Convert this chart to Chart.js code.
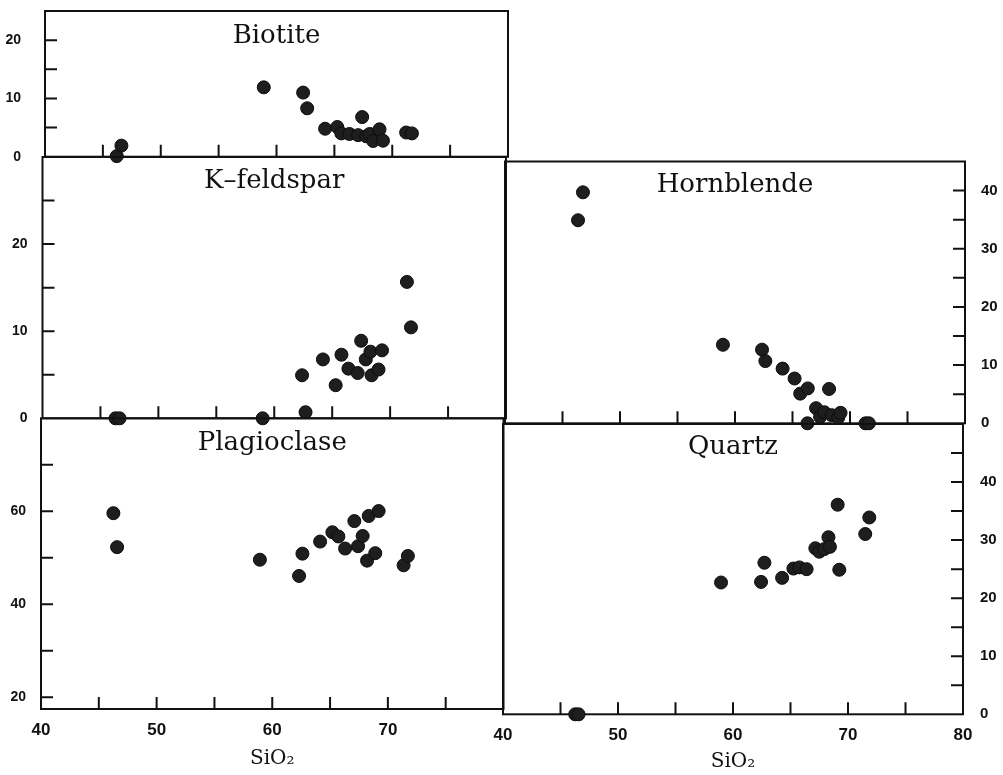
<!DOCTYPE html>
<html>
<head>
<meta charset="utf-8">
<script src="https://cdn.jsdelivr.net/npm/chart.js@4.4.1/dist/chart.umd.min.js"></script>
<style>
html,body{margin:0;padding:0;background:#fff;}
#wrap{position:relative;width:1003px;height:775px;overflow:hidden;background:#fff;}
canvas{position:absolute;left:0;top:0;}
</style>
</head>
<body>
<div id="wrap">
<canvas id="cBio" width="1003" height="775"></canvas>
<canvas id="cKfs" width="1003" height="775"></canvas>
<canvas id="cPlg" width="1003" height="775"></canvas>
<canvas id="cHbl" width="1003" height="775"></canvas>
<canvas id="cQtz" width="1003" height="775"></canvas>
</div>
<script>
// ---------- DATA ----------
const xTickLabelsLeft  = [40, 50, 60, 70];
const xTickLabelsRight = [40, 50, 60, 70, 80];

const biotiteSiO2 = [46.2, 46.6, 58.9, 62.3, 62.65, 64.2, 65.25, 65.6, 66.3, 67.05, 67.4, 67.75, 68.05, 68.35, 68.9, 69.2, 71.2, 71.7];
const biotiteMode = [0.1, 1.9, 11.9, 11.0, 8.3, 4.8, 5.1, 4.0, 3.9, 3.7, 6.8, 3.5, 3.9, 2.7, 4.7, 2.75, 4.15, 4.0];
const biotiteYLabels = [0, 10, 20];

const kfeldSiO2 = [46.3, 46.65, 59.0, 62.4, 62.7, 64.2, 65.3, 65.8, 66.4, 67.2, 67.5, 67.9, 68.3, 68.4, 69.0, 69.3, 71.45, 71.8];
const kfeldMode = [0, 0, 0, 4.94, 0.7, 6.76, 3.8, 7.3, 5.7, 5.2, 8.9, 6.76, 7.65, 4.94, 5.6, 7.8, 15.66, 10.44];
const kfeldYLabels = [0, 10, 20];

const plagSiO2 = [46.26, 46.58, 58.93, 62.32, 62.61, 64.14, 65.2, 65.72, 66.3, 67.1, 67.42, 67.82, 68.2, 68.34, 68.91, 69.2, 71.36, 71.73];
const plagMode = [59.6, 52.3, 49.6, 46.1, 50.9, 53.5, 55.5, 54.6, 52.0, 57.9, 52.5, 54.7, 49.4, 59.0, 51.0, 60.06, 48.4, 50.4];
const plagYLabels = [20, 40, 60];

const hornSiO2 = [46.35, 46.78, 58.95, 62.35, 62.64, 64.14, 65.18, 65.67, 66.33, 68.18, 67.05, 67.4, 67.77, 68.4, 68.98, 69.18, 66.3, 71.35, 71.64];
const hornMode = [34.9, 39.7, 13.5, 12.66, 10.7, 9.4, 7.7, 5.1, 6.0, 5.9, 2.6, 1.1, 1.9, 1.4, 1.0, 1.8, 0, 0, 0];
const hornYLabels = [0, 10, 20, 30, 40];

const quartzSiO2 = [46.28, 46.57, 58.96, 62.44, 62.73, 64.27, 65.25, 65.77, 66.4, 67.16, 67.5, 67.94, 68.3, 68.43, 69.1, 69.24, 71.5, 71.85];
const quartzMode = [0, 0, 22.7, 22.8, 26.1, 23.5, 25.1, 25.3, 25.0, 28.6, 28.0, 28.45, 30.5, 28.85, 36.1, 24.9, 31.05, 33.9];
const quartzYLabels = [0, 10, 20, 30, 40];

// ---------- LAYOUT / STYLE ----------
const PAGE_W = 1003, PAGE_H = 775;
const Y_AXIS_W = 40;
const INK = '#111';

Chart.defaults.font.family = '"Liberation Sans", Arial, sans-serif';

const framePlugin = {
  id: 'panelFrame',
  beforeDatasetsDraw(chart, args, opts) {
    const {ctx, chartArea: a, scales: {x, y}} = chart;
    const tl = opts.tickLen || 12;
    ctx.save();
    ctx.strokeStyle = INK;
    ctx.lineWidth = 2;
    ctx.strokeRect(a.left, a.top, a.right - a.left, a.bottom - a.top);
    ctx.beginPath();
    x.ticks.forEach(t => {
      if (t.value > x.min && t.value < x.max) {
        const px = x.getPixelForValue(t.value);
        ctx.moveTo(px, a.bottom);
        ctx.lineTo(px, a.bottom - tl);
      }
    });
    y.ticks.forEach(t => {
      if (t.value > y.min && t.value < y.max) {
        const py = y.getPixelForValue(t.value);
        if (y.position === 'left') { ctx.moveTo(a.left, py); ctx.lineTo(a.left + tl, py); }
        else { ctx.moveTo(a.right, py); ctx.lineTo(a.right - tl, py); }
      }
    });
    ctx.stroke();
    ctx.restore();
  },
  afterDraw(chart, args, opts) {
    const {ctx, chartArea: a} = chart;
    ctx.save();
    ctx.fillStyle = INK;
    ctx.font = '26px "DejaVu Serif", serif';
    ctx.textAlign = 'center';
    ctx.textBaseline = 'alphabetic';
    ctx.fillText(opts.title, (a.left + a.right) / 2, a.top + opts.baseline);
    ctx.restore();
  }
};

const panels = [
  {id: 'cBio', title: 'Biotite', baseline: 32, xs: biotiteSiO2, ys: biotiteMode,
   rect: [45, 11, 508, 156.7], yMin: 0, yMax: 25, yStep: 5, yLabels: biotiteYLabels,
   ySide: 'left', yPad: 24, yFont: 14, xLabels: null, xAxisH: 0},
  {id: 'cKfs', title: 'K\u2013feldspar', baseline: 31, xs: kfeldSiO2, ys: kfeldMode,
   rect: [42.5, 157, 506, 418.3], yMin: 0, yMax: 30, yStep: 5, yLabels: kfeldYLabels,
   ySide: 'left', yPad: 15, yFont: 14, xLabels: null, xAxisH: 0},
  {id: 'cPlg', title: 'Plagioclase', baseline: 31.5, xs: plagSiO2, ys: plagMode,
   rect: [41, 418.3, 503.5, 709], yMin: 17.5, yMax: 80, yStep: 10, yLabels: plagYLabels,
   ySide: 'left', yPad: 15, yFont: 14, xLabels: xTickLabelsLeft, xAxisH: 62},
  {id: 'cHbl', title: 'Hornblende', baseline: 30, xs: hornSiO2, ys: hornMode,
   rect: [505, 161.5, 965, 423.3], yMin: 0, yMax: 45, yStep: 5, yLabels: hornYLabels,
   ySide: 'right', yPad: 16, yFont: 15, xLabels: null, xAxisH: 0},
  {id: 'cQtz', title: 'Quartz', baseline: 30, xs: quartzSiO2, ys: quartzMode,
   rect: [503, 424, 963, 714.3], yMin: 0, yMax: 50, yStep: 5, yLabels: quartzYLabels,
   ySide: 'right', yPad: 17, yFont: 15, xLabels: xTickLabelsRight, xAxisH: 59.3}
];

function zeroPad(s) { s.paddingTop = 0; s.paddingBottom = 0; s.paddingLeft = 0; s.paddingRight = 0; }

function makeChart(p) {
  const [L, T, R, B] = p.rect;
  const xH = p.xAxisH;
  const pad = {
    top: T,
    bottom: PAGE_H - B - xH,
    left: p.ySide === 'left' ? L - Y_AXIS_W : L,
    right: p.ySide === 'right' ? PAGE_W - R - Y_AXIS_W : PAGE_W - R
  };
  const hasX = !!p.xLabels;
  return new Chart(document.getElementById(p.id), {
    type: 'scatter',
    data: {
      datasets: [{
        data: p.xs.map((x, i) => ({x: x, y: p.ys[i]})),
        pointRadius: 6.5,
        pointHoverRadius: 6.5,
        backgroundColor: '#1e1e1e',
        borderColor: '#0c0c0c',
        borderWidth: 1,
        clip: false
      }]
    },
    options: {
      responsive: false,
      animation: false,
      events: [],
      layout: {padding: pad},
      plugins: {
        legend: {display: false},
        tooltip: {enabled: false},
        panelFrame: {title: p.title, baseline: p.baseline, tickLen: 12}
      },
      scales: {
        x: {
          type: 'linear', position: 'bottom', min: 40, max: 80,
          grid: {display: false, drawTicks: false}, border: {display: false},
          ticks: {
            display: hasX, stepSize: 5, autoSkip: false, maxRotation: 0, includeBounds: false,
            padding: 11, color: INK, font: {size: 17, weight: 'bold'},
            callback: v => (hasX && p.xLabels.includes(v)) ? String(v) : ''
          },
          title: {display: hasX, text: 'SiO\u2082', color: INK,
                  font: {family: '"DejaVu Serif", serif', size: 20}, padding: 0},
          afterFit: s => { s.height = xH; zeroPad(s); }
        },
        y: {
          type: 'linear', position: p.ySide, min: p.yMin, max: p.yMax,
          grid: {display: false, drawTicks: false}, border: {display: false},
          ticks: {
            stepSize: p.yStep, autoSkip: false, includeBounds: false,
            padding: p.yPad, color: INK, font: {size: p.yFont, weight: 'bold'},
            callback: v => p.yLabels.includes(v) ? String(v) : ''
          },
          afterFit: s => { s.width = Y_AXIS_W; zeroPad(s); }
        }
      }
    },
    plugins: [framePlugin]
  });
}

panels.forEach(makeChart);
</script>
</body>
</html>
